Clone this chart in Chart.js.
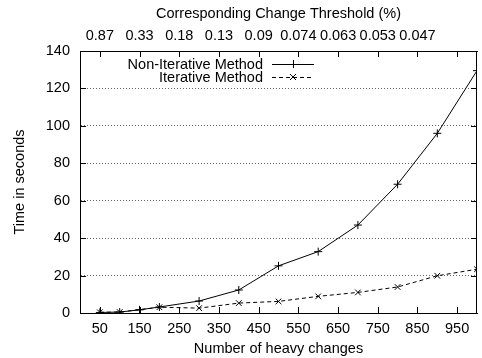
<!DOCTYPE html>
<html><head><meta charset="utf-8">
<script src="https://cdn.jsdelivr.net/npm/chart.js@4/dist/chart.umd.min.js"></script>
<style>html,body{margin:0;padding:0;background:#fff}#wrap{width:482px;height:358px}</style>
</head><body><div id="wrap"><canvas id="c" width="482" height="358"></canvas></div>
<script>
const nonIterX = [50, 100, 150, 200, 300, 400, 500, 600, 700, 800, 900, 1000];
const nonIterY = [0.3, 0.5, 1.7, 3.2, 6.4, 12.3, 25.2, 32.8, 47, 68.8, 96, 129.5];
const iterX = [50, 100, 200, 300, 400, 500, 600, 700, 800, 900, 1000];
const iterY = [0.4, 0.5, 3.1, 2.6, 5.3, 6.2, 8.9, 11, 13.9, 19.9, 23.4];
const xTicks = [50, 150, 250, 350, 450, 550, 650, 750, 850, 950];
const topLabels = ['0.87', '0.33', '0.18', '0.13', '0.09', '0.074', '0.063', '0.053', '0.047', ''];
const yTicks = [0, 20, 40, 60, 80, 100, 120, 140];
const seriesNames = ['Non-Iterative Method', 'Iterative Method'];

const FONT = "'Liberation Sans', Arial, sans-serif";
const FS = 14.5;
Chart.defaults.font.family = FONT;
Chart.defaults.font.size = FS;
Chart.defaults.color = '#000';

const innerPlugin = {
  id: 'inner',
  afterDatasetsDraw(chart) {
    const ctx = chart.ctx, a = chart.chartArea;
    const x = chart.scales.x, y = chart.scales.y;
    ctx.save();
    ctx.strokeStyle = '#000';
    ctx.lineWidth = 1;
    ctx.setLineDash([]);
    ctx.beginPath();
    const L = 6;
    xTicks.forEach(v => {
      const px = Math.round(x.getPixelForValue(v)) + 0.5;
      ctx.moveTo(px, a.bottom); ctx.lineTo(px, a.bottom - L);
      ctx.moveTo(px, a.top); ctx.lineTo(px, a.top + L);
    });
    yTicks.forEach(v => {
      const py = Math.round(y.getPixelForValue(v)) + 0.5;
      ctx.moveTo(a.left, py); ctx.lineTo(a.left + L, py);
      ctx.moveTo(a.right, py); ctx.lineTo(a.right - L, py);
    });
    ctx.stroke();
    ctx.beginPath();
    ctx.rect(a.left + 0.5, a.top + 0.5, a.right - a.left - 1, a.bottom - a.top);
    ctx.stroke();
    // legend
    ctx.font = FS + 'px ' + FONT;
    ctx.textAlign = 'right';
    ctx.textBaseline = 'middle';
    ctx.fillStyle = '#000';
    const rows = [64, 77];
    const ds = chart.data.datasets;
    rows.forEach((ry, i) => {
      ctx.fillText(seriesNames[i], 263, ry + 1);
      ctx.beginPath();
      ctx.setLineDash(ds[i].borderDash || []);
      ctx.moveTo(272, ry + 0.5); ctx.lineTo(314, ry + 0.5);
      ctx.stroke();
      ctx.setLineDash([]);
      ctx.beginPath();
      const cx = 293, r = 4;
      if (i === 0) {
        ctx.moveTo(cx - r, ry + 0.5); ctx.lineTo(cx + r, ry + 0.5);
        ctx.moveTo(cx + 0.5, ry - r); ctx.lineTo(cx + 0.5, ry + r);
      } else {
        const d = 3;
        ctx.moveTo(cx - d, ry - d); ctx.lineTo(cx + d, ry + d);
        ctx.moveTo(cx - d, ry + d); ctx.lineTo(cx + d, ry - d);
      }
      ctx.stroke();
    });
    ctx.restore();
  }
};

new Chart(document.getElementById('c'), {
  type: 'line',
  data: {
    datasets: [
      {
        label: seriesNames[0],
        data: nonIterX.map((v, i) => ({x: v, y: nonIterY[i]})),
        borderColor: '#000', backgroundColor: '#000', borderWidth: 1,
        pointStyle: 'cross', pointRadius: 4, pointBorderWidth: 1,
        tension: 0, fill: false
      },
      {
        label: seriesNames[1],
        data: iterX.map((v, i) => ({x: v, y: iterY[i]})),
        borderColor: '#000', backgroundColor: '#000', borderWidth: 1,
        borderDash: [4, 3],
        pointStyle: 'crossRot', pointRadius: 4, pointBorderWidth: 1,
        tension: 0, fill: false
      }
    ]
  },
  options: {
    responsive: false,
    animation: false,
    layout: {padding: {left: 0, right: 0, top: 0, bottom: 0}},
    plugins: {legend: {display: false}, tooltip: {enabled: false}},
    scales: {
      x: {
        type: 'linear', position: 'bottom', min: 0, max: 1000,
        afterBuildTicks: s => { s.ticks = xTicks.map(v => ({value: v})); },
        afterFit: s => { s.height = 45; },
        grid: {display: false, drawTicks: false},
        border: {display: true, color: '#000', width: 1},
        ticks: {padding: 7, maxRotation: 0, autoSkip: false, callback: v => String(v)},
        title: {display: true, text: 'Number of heavy changes', padding: {top: 0, bottom: 0}}
      },
      x2: {
        type: 'linear', position: 'top', min: 0, max: 1000,
        afterBuildTicks: s => { s.ticks = xTicks.map(v => ({value: v})); },
        afterFit: s => { s.height = 51; },
        grid: {display: false, drawTicks: false},
        border: {display: true, color: '#000', width: 1},
        ticks: {padding: 6, maxRotation: 0, autoSkip: false,
          callback: (v, i) => topLabels[i]},
        title: {display: true, text: 'Corresponding Change Threshold (%)', padding: {top: 5, bottom: 0}}
      },
      y: {
        type: 'linear', position: 'left', min: 0, max: 140,
        afterBuildTicks: s => { s.ticks = yTicks.map(v => ({value: v})); },
        afterFit: s => { s.width = 80; },
        grid: {
          drawTicks: false,
          color: c => (c.tick && (c.tick.value === 0 || c.tick.value === 140)) ? 'rgba(0,0,0,0)' : '#666',
          lineWidth: 1
        },
        border: {display: true, color: '#000', width: 1, dash: [1, 2]},
        ticks: {padding: 10},
        title: {display: true, text: 'Time in seconds', padding: {top: 11, bottom: 0}}
      }
    }
  },
  plugins: [innerPlugin]
});
</script>
</body></html>
